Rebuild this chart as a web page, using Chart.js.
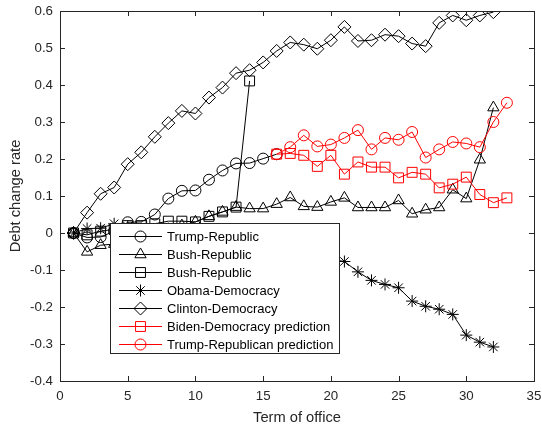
<!DOCTYPE html>
<html>
<head>
<meta charset="utf-8">
<script src="https://cdn.jsdelivr.net/npm/chart.js@4.4.0/dist/chart.umd.min.js"></script>
<style>
  html, body { margin: 0; padding: 0; background: #fff; }
  #wrap { width: 542px; height: 429px; }
</style>
</head>
<body>
<div id="wrap"><canvas id="myChart" width="542" height="429"></canvas></div>
<script>
// term numbers
const terms = [1, 2, 3, 4, 5, 6, 7, 8, 9, 10, 11, 12, 13, 14, 15, 16, 17, 18, 19, 20, 21, 22, 23, 24, 25, 26, 27, 28, 29, 30, 31, 32]
const predTerms = [16, 17, 18, 19, 20, 21, 22, 23, 24, 25, 26, 27, 28, 29, 30, 31, 32, 33]

// debt change rate per series
const trumpRate = [0, -0.012, -0.011, 0.005, 0.029, 0.03, 0.05, 0.093, 0.114, 0.115, 0.144, 0.169, 0.188, 0.189, 0.201, 0.213]
const bushTriRate = [0, -0.051, -0.033, -0.03, -0.02, -0.01, 0.0, 0.01, 0.02, 0.03, 0.045, 0.057, 0.07, 0.066, 0.066, 0.078,
  0.096, 0.072, 0.07, 0.084, 0.095, 0.069, 0.069, 0.069, 0.088, 0.052, 0.063, 0.069, 0.117, 0.093, 0.198, 0.339]
const bushSqRate = [0, -0.005, 0.005, 0.01, 0.02, 0.02, 0.025, 0.032, 0.032, 0.03, 0.045, 0.057, 0.07, 0.411]
const obamaRate = [0, 0.012, 0.013, 0.025, 0.018, 0.012, 0.004, 0.0, -0.008, -0.012, -0.02, -0.024, -0.033, -0.036, -0.042, -0.05,
  -0.054, -0.062, -0.066, -0.071, -0.077, -0.105, -0.128, -0.139, -0.148, -0.184, -0.198, -0.206, -0.22, -0.276, -0.295, -0.308]
const clintonRate = [0, 0.055, 0.106, 0.123, 0.186, 0.218, 0.26, 0.297, 0.33, 0.323, 0.366, 0.393, 0.432, 0.44, 0.461, 0.492,
  0.515, 0.509, 0.498, 0.521, 0.557, 0.519, 0.521, 0.536, 0.532, 0.512, 0.505, 0.568, 0.588, 0.575, 0.588, 0.597]
const bidenPred = [0.213, 0.215, 0.21, 0.18, 0.21, 0.159, 0.192, 0.178, 0.178, 0.149, 0.164, 0.159, 0.122, 0.132, 0.151, 0.104, 0.082, 0.095]
const trumpPred = [0.213, 0.232, 0.264, 0.234, 0.239, 0.257, 0.278, 0.226, 0.257, 0.252, 0.273, 0.204, 0.226, 0.246, 0.242, 0.232, 0.3, 0.352]

const seriesNames = ['Trump-Republic', 'Bush-Republic', 'Bush-Republic', 'Obama-Democracy', 'Clinton-Democracy',
  'Biden-Democracy prediction', 'Trump-Republican prediction']

const fontFam = '"Liberation Sans", Arial, sans-serif'

const pts = (xs, ys) => ys.map((v, i) => ({ x: xs[i], y: v }))

function makeSet(label, data, color, style, r, idx) {
  return {
    label: label,
    data: data,
    borderColor: color,
    backgroundColor: 'rgba(0,0,0,0)',
    borderWidth: 1,
    pointStyle: style,
    pointRadius: r,
    pointBorderWidth: 1,
    pointBorderColor: color,
    pointBackgroundColor: 'rgba(0,0,0,0)',
    order: -idx,
    tension: 0
  }
}

const sets = [
  makeSet(seriesNames[0], pts(terms, trumpRate), '#000', 'circle', 5.5, 0),
  makeSet(seriesNames[1], pts(terms, bushTriRate), '#000', 'triangle', 6.5, 1),
  makeSet(seriesNames[2], pts(terms, bushSqRate), '#000', 'rect', 7, 2),
  makeSet(seriesNames[3], pts(terms, obamaRate), '#000', 'star', 6, 3),
  makeSet(seriesNames[4], pts(terms, clintonRate), '#000', 'rectRot', 6.5, 4),
  makeSet(seriesNames[5], pts(predTerms, bidenPred), '#ff0000', 'rect', 7, 5),
  makeSet(seriesNames[6], pts(predTerms, trumpPred), '#ff0000', 'circle', 5.5, 6)
]

// small marker painter for the legend box
function drawMarker(ctx, style, x, y, r) {
  ctx.beginPath()
  if (style === 'circle') {
    ctx.arc(x, y, r, 0, Math.PI * 2)
  } else if (style === 'rect') {
    const s = r * Math.SQRT1_2
    ctx.rect(x - s, y - s, 2 * s, 2 * s)
  } else if (style === 'rectRot') {
    ctx.moveTo(x, y - r); ctx.lineTo(x + r, y); ctx.lineTo(x, y + r); ctx.lineTo(x - r, y); ctx.closePath()
  } else if (style === 'triangle') {
    const w = r * Math.sin(Math.PI * 2 / 3)
    ctx.moveTo(x, y - r); ctx.lineTo(x + w, y + r / 2); ctx.lineTo(x - w, y + r / 2); ctx.closePath()
  } else if (style === 'star') {
    for (let k = 0; k < 4; k++) {
      const a = k * Math.PI / 4
      ctx.moveTo(x - Math.cos(a) * r, y - Math.sin(a) * r)
      ctx.lineTo(x + Math.cos(a) * r, y + Math.sin(a) * r)
    }
  }
  ctx.stroke()
}

const boxPlugin = {
  id: 'boxTicks',
  afterDatasetsDraw(chart) {
    const ctx = chart.ctx
    const a = chart.chartArea
    const xs = chart.scales.x
    const ys = chart.scales.y
    ctx.save()
    ctx.strokeStyle = '#262626'
    ctx.lineWidth = 1
    ctx.beginPath()
    xs.ticks.forEach(t => {
      const px = Math.round(xs.getPixelForValue(t.value)) + 0.5
      ctx.moveTo(px, a.bottom); ctx.lineTo(px, a.bottom - 5)
      ctx.moveTo(px, a.top); ctx.lineTo(px, a.top + 5)
    })
    ys.ticks.forEach(t => {
      const py = Math.round(ys.getPixelForValue(t.value)) + 0.5
      ctx.moveTo(a.left, py); ctx.lineTo(a.left + 5, py)
      ctx.moveTo(a.right, py); ctx.lineTo(a.right - 5, py)
    })
    ctx.stroke()
    ctx.strokeRect(a.left + 0.5, a.top + 0.5, a.right - a.left, a.bottom - a.top)
    ctx.restore()
  },
  afterDraw(chart) {
    const ctx = chart.ctx
    const bx = 110.5, by = 223.5, bw = 229, bh = 130
    ctx.save()
    ctx.fillStyle = '#fff'
    ctx.fillRect(bx, by, bw, bh)
    ctx.strokeStyle = '#262626'
    ctx.lineWidth = 1
    ctx.strokeRect(bx, by, bw, bh)
    ctx.font = '13px ' + fontFam
    ctx.textBaseline = 'middle'
    ctx.textAlign = 'left'
    chart.data.datasets.forEach((ds, i) => {
      const ry = Math.round(236 + i * 18) + 0.5
      ctx.strokeStyle = ds.borderColor
      ctx.beginPath()
      ctx.moveTo(119, ry); ctx.lineTo(162, ry)
      ctx.stroke()
      drawMarker(ctx, ds.pointStyle, 140.5, ry, ds.pointRadius)
      ctx.fillStyle = '#000'
      ctx.fillText(ds.label, 167, ry + 0.5)
    })
    ctx.restore()
  }
}

const fmt = v => {
  const r = Math.round(v * 10) / 10
  return r === 0 ? '0' : r.toString()
}

new Chart(document.getElementById('myChart'), {
  type: 'line',
  data: { datasets: sets },
  options: {
    responsive: false,
    animation: false,
    devicePixelRatio: 1,
    layout: { padding: { top: 11, right: 8, left: 0, bottom: 0 } },
    plugins: { legend: { display: false }, tooltip: { enabled: false } },
    scales: {
      x: {
        type: 'linear',
        min: 0,
        max: 35,
        ticks: { stepSize: 5, color: '#262626', padding: 7, maxRotation: 0, font: { family: fontFam, size: 13.3 } },
        grid: { display: false, drawTicks: false },
        border: { display: false },
        title: { display: true, text: 'Term of office', color: '#262626', padding: { top: 4, bottom: 2 }, font: { family: fontFam, size: 14.7 } },
        afterFit: s => { s.height = 48; s.paddingLeft = 0; s.paddingRight = 0 }
      },
      y: {
        min: -0.4,
        max: 0.6,
        ticks: { stepSize: 0.1, color: '#262626', padding: 7, callback: fmt, font: { family: fontFam, size: 13.3 } },
        grid: { display: false, drawTicks: false },
        border: { display: false },
        title: { display: true, text: 'Debt change rate', color: '#262626', padding: { top: 7, bottom: 4 }, font: { family: fontFam, size: 14.7 } },
        afterFit: s => { s.width = 60; s.paddingTop = 0; s.paddingBottom = 0 }
      }
    }
  },
  plugins: [boxPlugin]
})
</script>
</body>
</html>
